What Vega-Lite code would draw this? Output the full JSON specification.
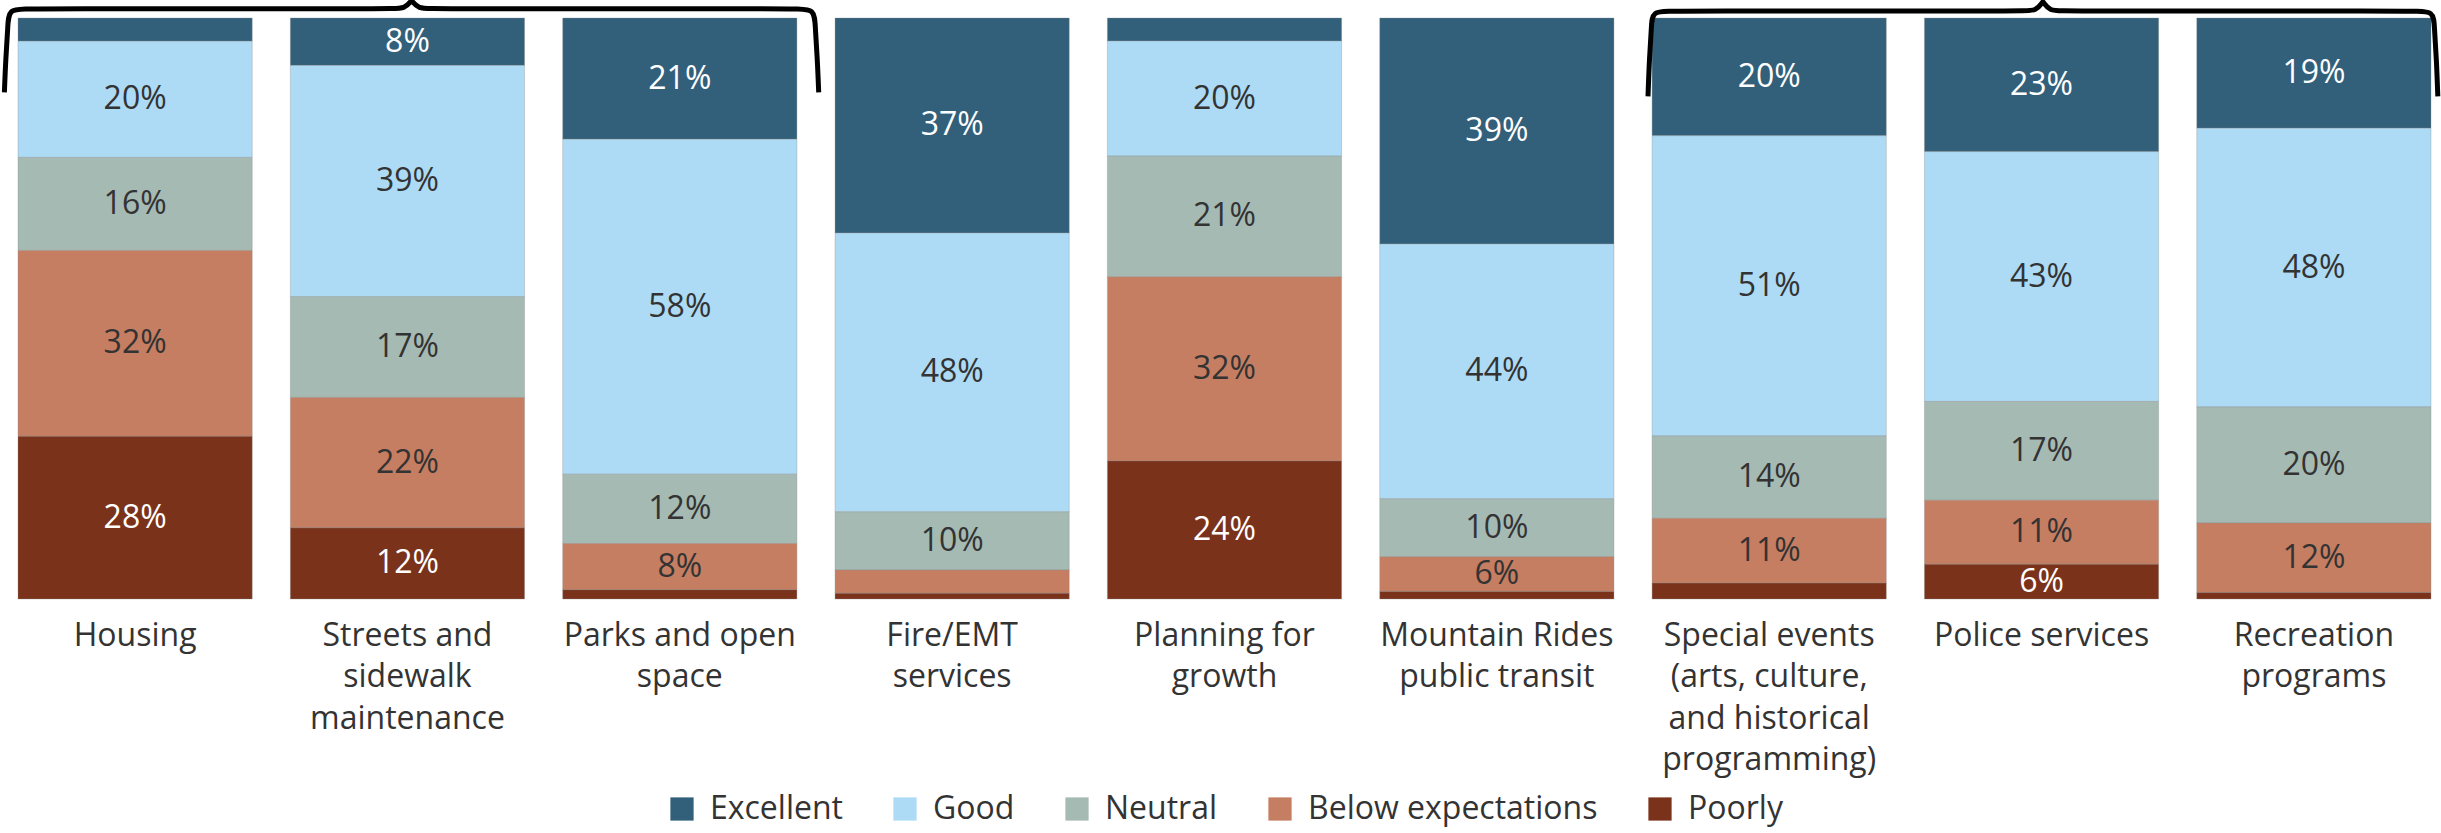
{
  "$schema": "https://vega.github.io/schema/vega-lite/v6.json",
  "width": 2413,
  "height": 581,
  "autosize": {"type": "none"},
  "padding": {"left": 18, "top": 18, "right": 10, "bottom": 234},
  "config": {
    "view": {"stroke": null},
    "font": "Open Sans",
    "axis": {"domain": false, "ticks": false, "grid": false, "labelFont": "Open Sans", "labelFontSize": 32, "labelColor": "#333333", "labelAngle": 0, "labelLineHeight": 41.5, "labelPadding": 21, "labelLimit": 0, "title": null},
    "legend": {"layout": {"bottom": {"anchor": "middle"}}}
  },
  "resolve": {"scale": {"x": "independent"}, "axis": {"x": "independent"}},
  "layer": [
    {
      "data": {"name": "ratings", "values": [
        {"service": "Housing", "rating": "Excellent", "level": 5, "share": 0.04},
        {"service": "Housing", "rating": "Good", "level": 4, "share": 0.20},
        {"service": "Housing", "rating": "Neutral", "level": 3, "share": 0.16},
        {"service": "Housing", "rating": "Below expectations", "level": 2, "share": 0.32},
        {"service": "Housing", "rating": "Poorly", "level": 1, "share": 0.28},
        {"service": "Streets and sidewalk maintenance", "rating": "Excellent", "level": 5, "share": 0.08},
        {"service": "Streets and sidewalk maintenance", "rating": "Good", "level": 4, "share": 0.39},
        {"service": "Streets and sidewalk maintenance", "rating": "Neutral", "level": 3, "share": 0.17},
        {"service": "Streets and sidewalk maintenance", "rating": "Below expectations", "level": 2, "share": 0.22},
        {"service": "Streets and sidewalk maintenance", "rating": "Poorly", "level": 1, "share": 0.12},
        {"service": "Parks and open space", "rating": "Excellent", "level": 5, "share": 0.21},
        {"service": "Parks and open space", "rating": "Good", "level": 4, "share": 0.58},
        {"service": "Parks and open space", "rating": "Neutral", "level": 3, "share": 0.12},
        {"service": "Parks and open space", "rating": "Below expectations", "level": 2, "share": 0.08},
        {"service": "Parks and open space", "rating": "Poorly", "level": 1, "share": 0.016},
        {"service": "Fire/EMT services", "rating": "Excellent", "level": 5, "share": 0.37},
        {"service": "Fire/EMT services", "rating": "Good", "level": 4, "share": 0.48},
        {"service": "Fire/EMT services", "rating": "Neutral", "level": 3, "share": 0.10},
        {"service": "Fire/EMT services", "rating": "Below expectations", "level": 2, "share": 0.04},
        {"service": "Fire/EMT services", "rating": "Poorly", "level": 1, "share": 0.01},
        {"service": "Planning for growth", "rating": "Excellent", "level": 5, "share": 0.04},
        {"service": "Planning for growth", "rating": "Good", "level": 4, "share": 0.20},
        {"service": "Planning for growth", "rating": "Neutral", "level": 3, "share": 0.21},
        {"service": "Planning for growth", "rating": "Below expectations", "level": 2, "share": 0.32},
        {"service": "Planning for growth", "rating": "Poorly", "level": 1, "share": 0.24},
        {"service": "Mountain Rides public transit", "rating": "Excellent", "level": 5, "share": 0.39},
        {"service": "Mountain Rides public transit", "rating": "Good", "level": 4, "share": 0.44},
        {"service": "Mountain Rides public transit", "rating": "Neutral", "level": 3, "share": 0.10},
        {"service": "Mountain Rides public transit", "rating": "Below expectations", "level": 2, "share": 0.06},
        {"service": "Mountain Rides public transit", "rating": "Poorly", "level": 1, "share": 0.013},
        {"service": "Special events (arts, culture, and historical programming)", "rating": "Excellent", "level": 5, "share": 0.20},
        {"service": "Special events (arts, culture, and historical programming)", "rating": "Good", "level": 4, "share": 0.51},
        {"service": "Special events (arts, culture, and historical programming)", "rating": "Neutral", "level": 3, "share": 0.14},
        {"service": "Special events (arts, culture, and historical programming)", "rating": "Below expectations", "level": 2, "share": 0.11},
        {"service": "Special events (arts, culture, and historical programming)", "rating": "Poorly", "level": 1, "share": 0.027},
        {"service": "Police services", "rating": "Excellent", "level": 5, "share": 0.23},
        {"service": "Police services", "rating": "Good", "level": 4, "share": 0.43},
        {"service": "Police services", "rating": "Neutral", "level": 3, "share": 0.17},
        {"service": "Police services", "rating": "Below expectations", "level": 2, "share": 0.11},
        {"service": "Police services", "rating": "Poorly", "level": 1, "share": 0.06},
        {"service": "Recreation programs", "rating": "Excellent", "level": 5, "share": 0.19},
        {"service": "Recreation programs", "rating": "Good", "level": 4, "share": 0.48},
        {"service": "Recreation programs", "rating": "Neutral", "level": 3, "share": 0.20},
        {"service": "Recreation programs", "rating": "Below expectations", "level": 2, "share": 0.12},
        {"service": "Recreation programs", "rating": "Poorly", "level": 1, "share": 0.011}
      ]},
      "layer": [
        {
          "mark": {"type": "bar", "stroke": "#8c8c8c", "strokeWidth": 0.75, "strokeOpacity": 0.45},
          "encoding": {
            "x": {
              "field": "service", "type": "nominal",
              "sort": ["Housing", "Streets and sidewalk maintenance", "Parks and open space", "Fire/EMT services", "Planning for growth", "Mountain Rides public transit", "Special events (arts, culture, and historical programming)", "Police services", "Recreation programs"],
              "scale": {"paddingInner": 0.14, "paddingOuter": 0},
              "axis": {
                "orient": "bottom",
                "labelExpr": "datum.value == 'Streets and sidewalk maintenance' ? ['Streets and', 'sidewalk', 'maintenance'] : datum.value == 'Parks and open space' ? ['Parks and open', 'space'] : datum.value == 'Fire/EMT services' ? ['Fire/EMT', 'services'] : datum.value == 'Planning for growth' ? ['Planning for', 'growth'] : datum.value == 'Mountain Rides public transit' ? ['Mountain Rides', 'public transit'] : datum.value == 'Special events (arts, culture, and historical programming)' ? ['Special events', '(arts, culture,', 'and historical', 'programming)'] : datum.value == 'Recreation programs' ? ['Recreation', 'programs'] : datum.value"
              }
            },
            "y": {"field": "share", "type": "quantitative", "stack": "normalize", "scale": {"domain": [0, 1]}, "axis": null},
            "order": {"field": "level", "type": "quantitative", "sort": "ascending"},
            "color": {
              "field": "rating", "type": "nominal",
              "scale": {"domain": ["Excellent", "Good", "Neutral", "Below expectations", "Poorly"], "range": ["#32607B", "#ADDBF5", "#A6BAB4", "#C57E62", "#7A321B"]},
              "legend": {"title": null, "orient": "bottom", "direction": "horizontal", "labelFontSize": 32, "labelColor": "#333333", "labelFont": "Open Sans", "symbolType": "square", "symbolSize": 540, "symbolStrokeWidth": 0, "symbolOpacity": 1, "columnPadding": 46, "labelOffset": 12, "offset": 17, "labelLimit": 0}
            }
          }
        },
        {
          "mark": {"type": "text", "font": "Open Sans", "fontSize": 32, "baseline": "middle", "align": "center"},
          "encoding": {
            "x": {
              "field": "service", "type": "nominal",
              "sort": ["Housing", "Streets and sidewalk maintenance", "Parks and open space", "Fire/EMT services", "Planning for growth", "Mountain Rides public transit", "Special events (arts, culture, and historical programming)", "Police services", "Recreation programs"]
            },
            "y": {"field": "share", "type": "quantitative", "stack": "normalize", "bandPosition": 0.5},
            "order": {"field": "level", "type": "quantitative", "sort": "ascending"},
            "text": {"condition": {"test": "datum.share < 0.05", "value": ""}, "field": "share", "type": "quantitative", "format": ".0%"},
            "color": {"condition": {"test": "datum.rating == 'Excellent' || datum.rating == 'Poorly'", "value": "#ffffff"}, "value": "#333333"}
          }
        }
      ]
    },
    {
      "data": {"name": "braces", "values": [
        {"brace": "left", "seq": 1, "bx": -0.05, "by": 0.872},
        {"brace": "left", "seq": 2, "bx": -0.045, "by": 0.93},
        {"brace": "left", "seq": 3, "bx": -0.037, "by": 0.985},
        {"brace": "left", "seq": 4, "bx": -0.035, "by": 1.016},
        {"brace": "left", "seq": 5, "bx": 0.035, "by": 1.016},
        {"brace": "left", "seq": 6, "bx": 1.37, "by": 1.016},
        {"brace": "left", "seq": 7, "bx": 1.42, "by": 1.016},
        {"brace": "left", "seq": 8, "bx": 1.445, "by": 1.03},
        {"brace": "left", "seq": 9, "bx": 1.445, "by": 1.03},
        {"brace": "left", "seq": 10, "bx": 1.445, "by": 1.03},
        {"brace": "left", "seq": 11, "bx": 1.47, "by": 1.016},
        {"brace": "left", "seq": 12, "bx": 1.52, "by": 1.016},
        {"brace": "left", "seq": 13, "bx": 2.855, "by": 1.016},
        {"brace": "left", "seq": 14, "bx": 2.925, "by": 1.016},
        {"brace": "left", "seq": 15, "bx": 2.927, "by": 0.985},
        {"brace": "left", "seq": 16, "bx": 2.935, "by": 0.93},
        {"brace": "left", "seq": 17, "bx": 2.94, "by": 0.872},
        {"brace": "right", "seq": 1, "bx": 5.985, "by": 0.865},
        {"brace": "right", "seq": 2, "bx": 5.99, "by": 0.93},
        {"brace": "right", "seq": 3, "bx": 5.998, "by": 0.985},
        {"brace": "right", "seq": 4, "bx": 6.0, "by": 1.012},
        {"brace": "right", "seq": 5, "bx": 6.07, "by": 1.012},
        {"brace": "right", "seq": 6, "bx": 7.36, "by": 1.012},
        {"brace": "right", "seq": 7, "bx": 7.41, "by": 1.012},
        {"brace": "right", "seq": 8, "bx": 7.435, "by": 1.028},
        {"brace": "right", "seq": 9, "bx": 7.435, "by": 1.028},
        {"brace": "right", "seq": 10, "bx": 7.435, "by": 1.028},
        {"brace": "right", "seq": 11, "bx": 7.46, "by": 1.012},
        {"brace": "right", "seq": 12, "bx": 7.51, "by": 1.012},
        {"brace": "right", "seq": 13, "bx": 8.8, "by": 1.012},
        {"brace": "right", "seq": 14, "bx": 8.87, "by": 1.012},
        {"brace": "right", "seq": 15, "bx": 8.872, "by": 0.985},
        {"brace": "right", "seq": 16, "bx": 8.88, "by": 0.93},
        {"brace": "right", "seq": 17, "bx": 8.885, "by": 0.865}
      ]},
      "mark": {"type": "line", "color": "#000000", "strokeWidth": 5, "interpolate": "basis", "strokeCap": "butt", "clip": false},
      "encoding": {
        "x": {"field": "bx", "type": "quantitative", "scale": {"domain": [0, 8.86], "nice": false, "zero": false}, "axis": null},
        "y": {"field": "by", "type": "quantitative", "scale": {"domain": [0, 1]}, "axis": null},
        "detail": {"field": "brace", "type": "nominal"},
        "order": {"field": "seq", "type": "quantitative"}
      }
    }
  ]
}
